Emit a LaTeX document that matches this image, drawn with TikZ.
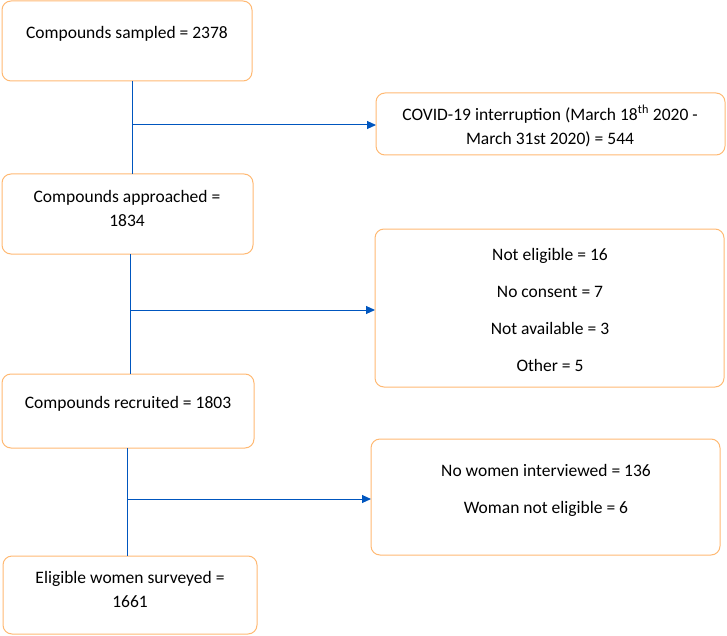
\documentclass[tikz,border=0pt]{standalone}
\usepackage{fontspec}
\usetikzlibrary{arrows.meta}
\setmainfont{Carlito}
\begin{document}
\begin{tikzpicture}[x=1pt,y=-1pt,
 box/.style={draw=orange!55!white,line width=1pt,rounded corners=9pt},
 ln/.style={draw=blue!55!cyan!75!black,line width=1pt},
 arr/.style={ln,-{Triangle[length=9pt,width=8pt]}},
 txt/.style={font=\fontsize{17.5}{24}\selectfont,inner sep=0pt,align=center}]
\useasboundingbox (0,0) rectangle (727,636);
\draw[box] (2,1) rectangle (252,81);
\node[txt] (a) at (127,34) {Compounds sampled = 2378};
\draw[box] (376,93) rectangle (725,155);
\node[txt] (b) at (550,126) {COVID-19 interruption (March 18\textsuperscript{th} 2020 -\\March 31st 2020) = 544};
\draw[box] (2,174) rectangle (253,254);
\node[txt] (c) at (127,208) {Compounds approached =\\1834};
\draw[box] (375,229) rectangle (724,387);
\node[txt] (d) at (550,310) {Not eligible = 16\\[13pt]No consent = 7\\[13pt]Not available = 3\\[13pt]Other = 5};
\draw[box] (2,374) rectangle (254,448);
\node[txt] (e) at (128,404) {Compounds recruited = 1803};
\draw[box] (371,439) rectangle (720,555);
\node[txt] (f) at (546,490) {No women interviewed = 136\\[13pt]Woman not eligible = 6};
\draw[box] (3,556) rectangle (257,634);
\node[txt] (g) at (130,589) {Eligible women surveyed =\\1661};
\coordinate (v1) at (132,81); \coordinate (v2) at (132,174);
\coordinate (v3) at (130,254); \coordinate (v4) at (130,374);
\coordinate (v5) at (127,448); \coordinate (v6) at (127,556);
\draw[ln] (v1) -- (v2); \draw[ln] (v3) -- (v4); \draw[ln] (v5) -- (v6);
\coordinate (s1) at (132,125); \coordinate (t1) at (376,125);
\coordinate (s2) at (130,310); \coordinate (t2) at (375,310);
\coordinate (s3) at (127,499); \coordinate (t3) at (371,499);
\draw[arr] (s1) -- (t1); \draw[arr] (s2) -- (t2); \draw[arr] (s3) -- (t3);
\end{tikzpicture}
\end{document}
